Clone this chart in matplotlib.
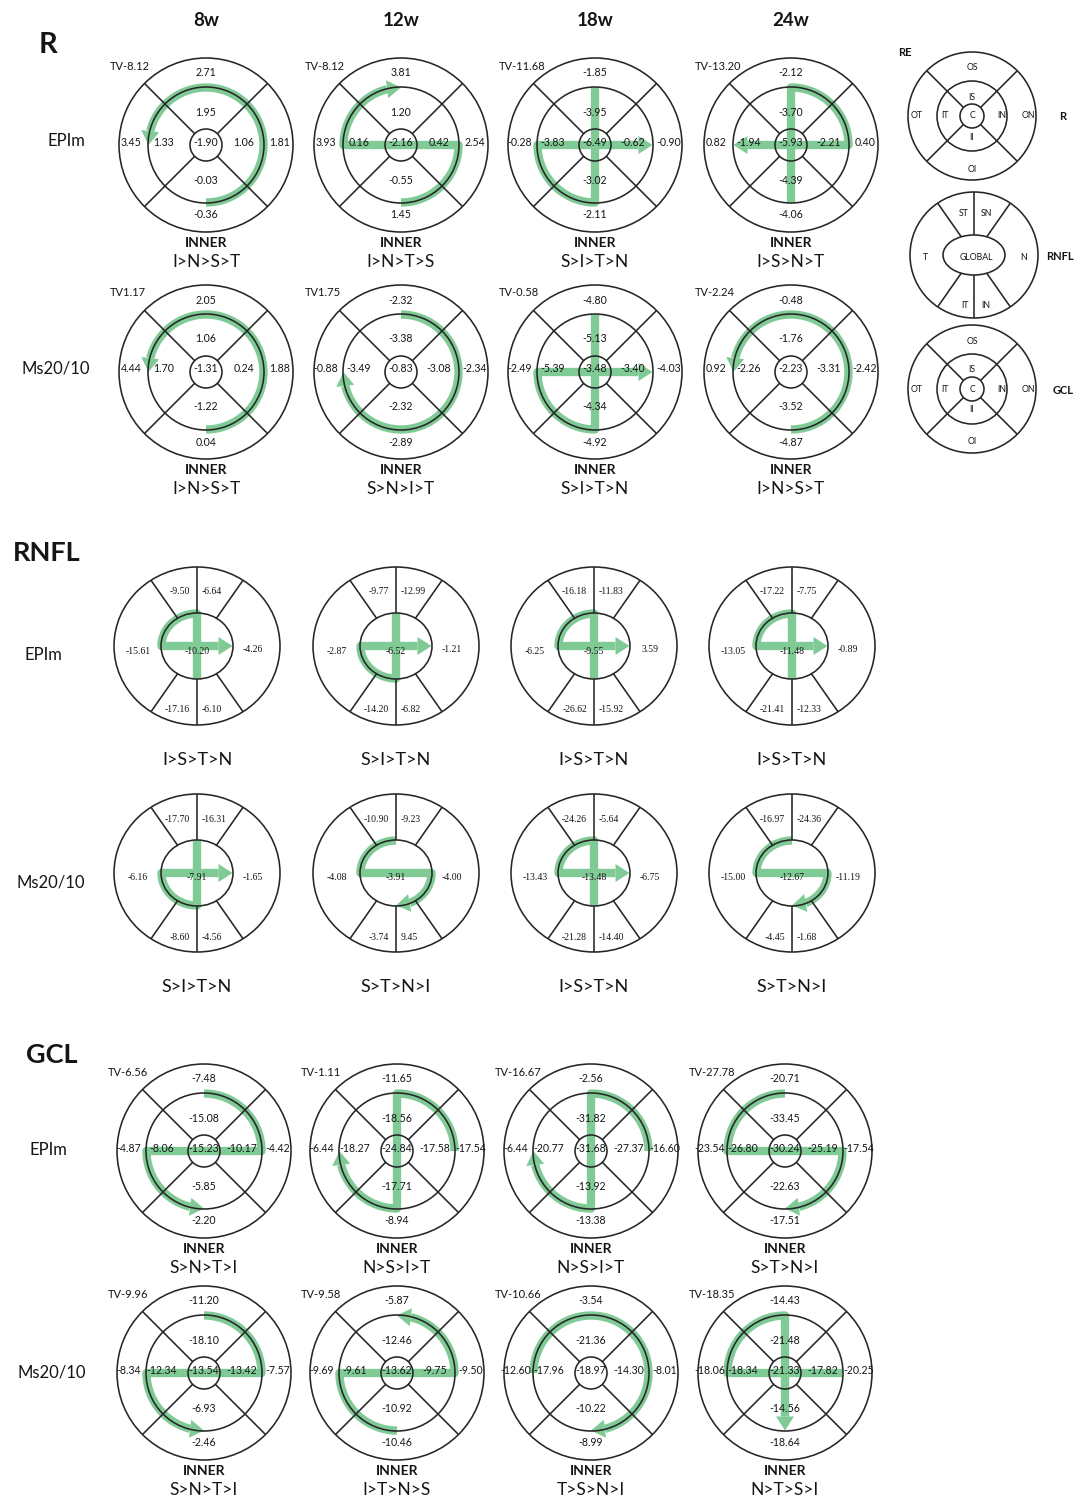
"""
Sector-change maps (R, RNFL, GCL) for EPIm and Ms20/10 at 8-24 weeks,
with the inner-ring ranking drawn as a green route over each grid.
"""
import numpy as np
import matplotlib
matplotlib.use("Agg")
import matplotlib.pyplot as plt
from matplotlib.patches import Circle, Ellipse, Polygon

# ── Data ───────────────────────────────────────────────────────────────────
WEEKS = ["8w", "12w", "18w", "24w"]
GROUPS = ["EPIm", "Ms20/10"]

ETDRS_KEYS = ["OS", "IS", "OT", "IT", "C", "IN", "ON", "II", "OI"]
RNFL_KEYS = ["ST", "SN", "T", "G", "N", "IT", "IN"]

R_EPIM = [
    [2.71, 1.95, 3.45, 1.33, -1.90, 1.06, 1.81, -0.03, -0.36],
    [3.81, 1.20, 3.93, 0.16, -2.16, 0.42, 2.54, -0.55, 1.45],
    [-1.85, -3.95, -0.28, -3.83, -6.49, -0.62, -0.90, -3.02, -2.11],
    [-2.12, -3.70, 0.82, -1.94, -5.93, -2.21, 0.40, -4.39, -4.06],
]
R_EPIM_TV = [-8.12, -8.12, -11.68, -13.20]
R_EPIM_ORDER = ["I>N>S>T", "I>N>T>S", "S>I>T>N", "I>S>N>T"]

R_MS = [
    [2.05, 1.06, 4.44, 1.70, -1.31, 0.24, 1.88, -1.22, 0.04],
    [-2.32, -3.38, -0.88, -3.49, -0.83, -3.08, -2.34, -2.32, -2.89],
    [-4.80, -5.13, -2.49, -5.39, -3.48, -3.40, -4.03, -4.34, -4.92],
    [-0.48, -1.76, 0.92, -2.26, -2.23, -3.31, -2.42, -3.52, -4.87],
]
R_MS_TV = [1.17, 1.75, -0.58, -2.24]
R_MS_ORDER = ["I>N>S>T", "S>N>I>T", "S>I>T>N", "I>N>S>T"]

RNFL_EPIM = [
    [-9.50, -6.64, -15.61, -10.20, -4.26, -17.16, -6.10],
    [-9.77, -12.99, -2.87, -6.52, -1.21, -14.20, -6.82],
    [-16.18, -11.83, -6.25, -9.55, 3.59, -26.62, -15.92],
    [-17.22, -7.75, -13.05, -11.48, -0.89, -21.41, -12.33],
]
RNFL_EPIM_ORDER = ["I>S>T>N", "S>I>T>N", "I>S>T>N", "I>S>T>N"]

RNFL_MS = [
    [-17.70, -16.31, -6.16, -7.91, -1.65, -8.60, -4.56],
    [-10.90, -9.23, -4.08, -3.91, -4.00, -3.74, 9.45],
    [-24.26, -5.64, -13.43, -13.48, -6.75, -21.28, -14.40],
    [-16.97, -24.36, -15.00, -12.67, -11.19, -4.45, -1.68],
]
RNFL_MS_ORDER = ["S>I>T>N", "S>T>N>I", "I>S>T>N", "S>T>N>I"]

GCL_EPIM = [
    [-7.48, -15.08, -4.87, -8.06, -15.23, -10.17, -4.42, -5.85, -2.20],
    [-11.65, -18.56, -6.44, -18.27, -24.84, -17.58, -17.54, -17.71, -8.94],
    [-2.56, -31.82, -6.44, -20.77, -31.68, -27.37, -16.60, -13.92, -13.38],
    [-20.71, -33.45, -23.54, -26.80, -30.24, -25.19, -17.54, -22.63, -17.51],
]
GCL_EPIM_TV = [-6.56, -1.11, -16.67, -27.78]
GCL_EPIM_ORDER = ["S>N>T>I", "N>S>I>T", "N>S>I>T", "S>T>N>I"]

GCL_MS = [
    [-11.20, -18.10, -8.34, -12.34, -13.54, -13.42, -7.57, -6.93, -2.46],
    [-5.87, -12.46, -9.69, -9.61, -13.62, -9.75, -9.50, -10.92, -10.46],
    [-3.54, -21.36, -12.60, -17.96, -18.97, -14.30, -8.01, -10.22, -8.99],
    [-14.43, -21.48, -18.06, -18.34, -21.33, -17.82, -20.25, -14.56, -18.64],
]
GCL_MS_TV = [-9.96, -9.58, -10.66, -18.35]
GCL_MS_ORDER = ["S>N>T>I", "I>T>N>S", "T>S>N>I", "N>T>S>I"]

# ── Style ──────────────────────────────────────────────────────────────────
FONT = ["Lato", "DejaVu Sans"]
SERIF = ["Liberation Serif", "DejaVu Serif"]
INK = "#151515"
LINE = "#262626"
GREEN = "#80CA96"
LW = 1.15
ROUTE_LW = 6.0
HEAD_LEN, HEAD_W = 14, 9

# page layout (pixel units, y downwards)
R_X = [206, 401, 595, 791]
RNFL_X = [197, 396, 594, 792]
GCL_X = [204, 397, 591, 785]
R_Y = [145, 372]
RNFL_Y = [646, 873]
GCL_Y = [1151, 1373]

# sides of the eye in the route (right eye: temporal on the left)
SIDE_ANGLE = {"N": 0, "S": 90, "T": 180, "I": 270}

fig = plt.figure(figsize=(10.85, 15.02), dpi=100)
fig.patch.set_facecolor("white")
ax = fig.add_axes([0, 0, 1, 1])
ax.set_xlim(0, 1085)
ax.set_ylim(1502, 0)
ax.axis("off")


def txt(x, y, s, size, weight="normal", ha="center", family=FONT, **kw):
    ax.text(x, y, s, fontsize=size, fontweight=weight, ha=ha, va="center",
            family=family, color=INK, zorder=5, **kw)


def ray(cx, cy, ang, rx_a, ry_a, rx_b, ry_b):
    """Segment along a ray between two concentric ellipses."""
    c, s = np.cos(np.radians(ang)), np.sin(np.radians(ang))
    ta = 1 / np.hypot(c / rx_a, s / ry_a)
    tb = 1 / np.hypot(c / rx_b, s / ry_b)
    ax.plot([cx + ta * c, cx + tb * c], [cy - ta * s, cy - tb * s],
            color=LINE, lw=LW, zorder=3, solid_capstyle="butt")


def etdrs_grid(cx, cy, r_out, r_mid, r_in):
    for r in (r_out, r_mid, r_in):
        ax.add_patch(Circle((cx, cy), r, fill=False, ec=LINE, lw=LW, zorder=3))
    for a in (45, 135, 225, 315):
        ray(cx, cy, a, r_in, r_in, r_out, r_out)


def rnfl_grid(cx, cy, rxo, ryo, rxi, ryi):
    ax.add_patch(Ellipse((cx, cy), 2 * rxo, 2 * ryo, fill=False, ec=LINE, lw=LW, zorder=3))
    ax.add_patch(Ellipse((cx, cy), 2 * rxi, 2 * ryi, fill=False, ec=LINE, lw=LW, zorder=3))
    for a in (55, 90, 125, 235, 270, 305):
        ray(cx, cy, a, rxi, ryi, rxo, ryo)


def route(order, cx, cy, rx, ry, n=48):
    """Green arrow through the four sides in ranking order."""
    seq = order.split(">")
    pts = []
    for a, b in zip(seq[:-1], seq[1:]):
        t0, t1 = SIDE_ANGLE[a], SIDE_ANGLE[b]
        d = (t1 - t0 + 180) % 360 - 180
        th = np.radians([t0, t1] if abs(d) == 180 else np.linspace(t0, t0 + d, n))
        seg = np.column_stack([cx + rx * np.cos(th), cy - ry * np.sin(th)])
        pts.append(seg if not pts else seg[1:])
    pts = np.vstack(pts)
    cum = np.concatenate([[0], np.cumsum(np.hypot(*np.diff(pts, axis=0).T))])
    stop = cum[-1] - HEAD_LEN
    base = np.array([np.interp(stop, cum, pts[:, 0]), np.interp(stop, cum, pts[:, 1])])
    body = np.vstack([pts[cum < stop], base])
    tip = pts[-1]
    u = (tip - base) / np.hypot(*(tip - base))
    p = np.array([-u[1], u[0]])
    ax.plot(body[:, 0], body[:, 1], color=GREEN, lw=ROUTE_LW,
            solid_capstyle="butt", solid_joinstyle="round", zorder=2)
    ax.add_patch(Polygon([tip, base + p * HEAD_W, base - p * HEAD_W],
                         closed=True, fc=GREEN, ec="none", zorder=2))


ETDRS_POS = {"OS": (0, -72), "IS": (0, -33), "OT": (-75, -3), "IT": (-42, -3),
             "C": (0, -3), "IN": (38, -3), "ON": (74, -3), "II": (0, 35), "OI": (0, 70)}


def etdrs_panel(cx, cy, vals, tv, order):
    etdrs_grid(cx, cy, 87, 58, 16)
    route(order, cx, cy, 57.5, 57.5)
    for k, v in zip(ETDRS_KEYS, vals):
        dx, dy = ETDRS_POS[k]
        txt(cx + dx, cy + dy, f"{v:.2f}", 7.6)
    txt(cx - 96, cy - 79, f"TV{tv:.2f}", 8, ha="left")
    txt(cx, cy + 98, "INNER", 10, weight="bold")
    txt(cx, cy + 117, order, 12.5)


RNFL_POS = {"ST": (-7, -54, "right"), "SN": (5, -54, "left"), "T": (-59, 5, "center"),
            "G": (0, 5, "center"), "N": (56, 4, "center"), "IT": (-7, 64, "right"),
            "IN": (5, 64, "left")}


def rnfl_panel(cx, cy, vals, order):
    rnfl_grid(cx, cy, 83, 79, 36, 33)
    route(order, cx, cy, 35.5, 32.5)
    for k, v in zip(RNFL_KEYS, vals):
        dx, dy, ha = RNFL_POS[k]
        txt(cx + dx, cy + dy, f"{v:.2f}", 7, ha=ha, family=SERIF)
    txt(cx, cy + 114, order, 13)


# ── Column headers and section titles ──────────────────────────────────────
for x, w in zip(R_X, WEEKS):
    txt(x, 20, w, 13.5, weight="bold")

txt(48, 45, "R", 21, weight="bold")
txt(47, 553, "RNFL", 19.5, weight="bold")
txt(52, 1055, "GCL", 19.5, weight="bold")

for y, label, lx in zip(R_Y, GROUPS, (66, 56)):
    txt(lx, y - 4, label, 12)
for y, label, lx in zip(RNFL_Y, GROUPS, (43, 51)):
    txt(lx, y + 9, label, 12)
for y, label, lx in zip(GCL_Y, GROUPS, (48, 52)):
    txt(lx, y - 1, label, 12)

# ── R ──────────────────────────────────────────────────────────────────────
for i, x in enumerate(R_X):
    etdrs_panel(x, R_Y[0], R_EPIM[i], R_EPIM_TV[i], R_EPIM_ORDER[i])
    etdrs_panel(x, R_Y[1], R_MS[i], R_MS_TV[i], R_MS_ORDER[i])

# ── RNFL ───────────────────────────────────────────────────────────────────
for i, x in enumerate(RNFL_X):
    rnfl_panel(x, RNFL_Y[0], RNFL_EPIM[i], RNFL_EPIM_ORDER[i])
    rnfl_panel(x, RNFL_Y[1], RNFL_MS[i], RNFL_MS_ORDER[i])

# ── GCL ────────────────────────────────────────────────────────────────────
for i, x in enumerate(GCL_X):
    etdrs_panel(x, GCL_Y[0], GCL_EPIM[i], GCL_EPIM_TV[i], GCL_EPIM_ORDER[i])
    etdrs_panel(x, GCL_Y[1], GCL_MS[i], GCL_MS_TV[i], GCL_MS_ORDER[i])

# ── Sector key (right eye) ─────────────────────────────────────────────────
KEY_X = 972
KEY_POS = {"OS": (0, -48), "IS": (0, -19), "OT": (-55, 0), "IT": (-27, 0), "C": (0, 0),
           "IN": (30, 0), "ON": (56, 0), "II": (0, 21), "OI": (0, 53)}

txt(905, 53, "RE", 8, weight="bold")
for ky, name in ((116, "R"), (389, "GCL")):
    etdrs_grid(KEY_X, ky, 64, 35, 12)
    for k in ETDRS_KEYS:
        dx, dy = KEY_POS[k]
        txt(KEY_X + dx, ky + dy, k, 6.3)
    txt(1063, ky + 1, name, 8, weight="bold")

ky = 255
rnfl_grid(KEY_X + 2, ky, 64, 63, 31, 20)
for k, (dx, dy, ha) in {"ST": (-5, -42, "right"), "SN": (7, -42, "left"),
                        "T": (-49, 2, "center"), "G": (2, 2, "center"),
                        "N": (50, 2, "center"), "IT": (-5, 51, "right"),
                        "IN": (7, 51, "left")}.items():
    txt(KEY_X + 2 + dx, ky + dy, "GLOBAL" if k == "G" else k, 6.3, ha=ha)
txt(1060, ky + 2, "RNFL", 8, weight="bold")

fig.savefig("out.png", dpi=100, facecolor="white")
plt.close(fig)
